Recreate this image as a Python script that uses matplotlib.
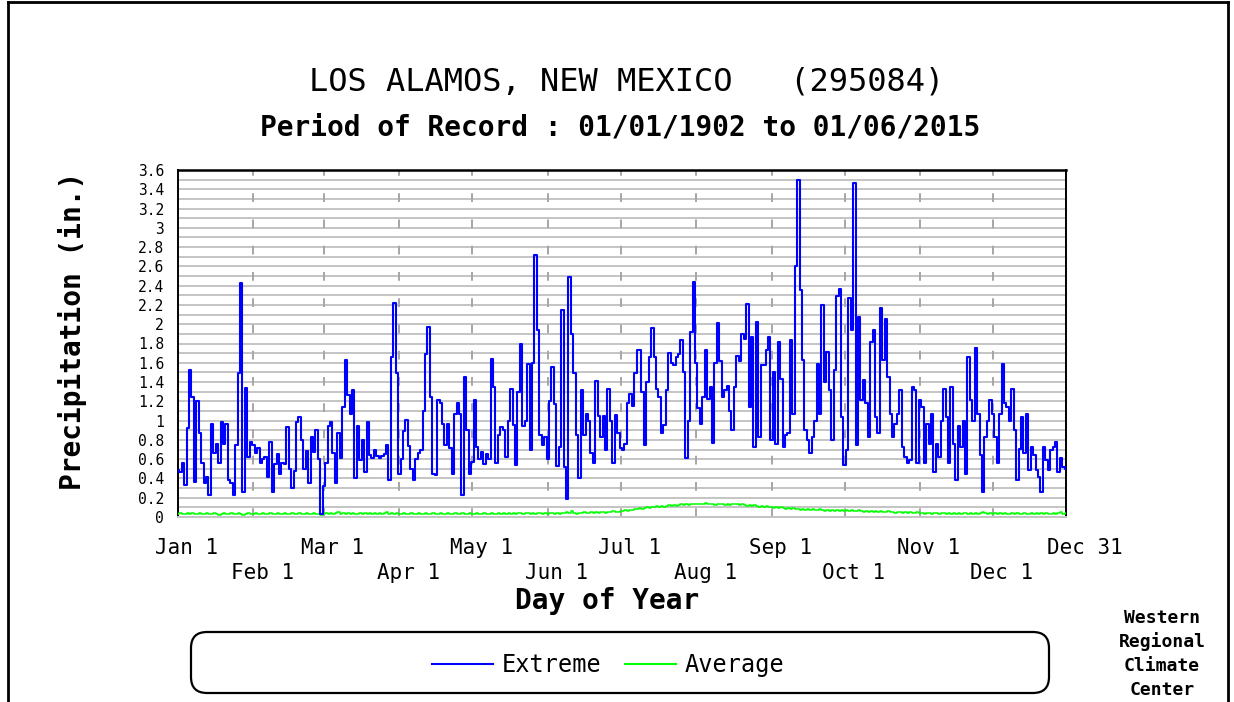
import numpy as np
import matplotlib
matplotlib.use("Agg")
import matplotlib.pyplot as plt
from matplotlib.lines import Line2D
from matplotlib.patches import FancyBboxPatch
import matplotlib.transforms as mtransforms

# ---------------- data ----------------
month_names = ["Jan", "Feb", "Mar", "Apr", "May", "Jun",
               "Jul", "Aug", "Sep", "Oct", "Nov", "Dec"]
month_lengths = [31, 29, 31, 30, 31, 30, 31, 31, 30, 31, 30, 31]

# Extreme daily precipitation (in.)
ext_jan = [0.49, 0.47, 0.56, 0.33, 0.92, 1.52, 1.25, 0.36, 1.2, 0.87,
           0.56, 0.35, 0.42, 0.23, 0.96, 0.66, 0.76, 0.56, 0.99, 0.76,
           0.96, 0.38, 0.35, 0.23, 0.75, 1.49, 2.43, 0.26, 1.34, 0.62,
           0.78]
ext_feb = [0.75, 0.66, 0.72, 0.56, 0.6, 0.62, 0.42, 0.78, 0.26,
           0.55, 0.65, 0.45, 0.56, 0.55, 0.93, 0.5, 0.3, 0.48, 0.99,
           1.04, 0.8, 0.5, 0.68, 0.35, 0.83, 0.67, 0.9, 0.6, 0.03]
ext_mar = [0.32, 0.56, 0.94, 0.99, 0.66, 0.35, 0.87, 0.61, 1.14, 1.63,
           1.27, 1.07, 1.32, 0.40, 0.94, 0.59, 0.80, 0.47, 0.99, 0.64,
           0.61, 0.70, 0.63, 0.61, 0.63, 0.65, 0.75, 0.38, 1.66, 2.22,
           1.49]
ext_apr = [0.45, 0.6, 0.89, 1.01, 0.74, 0.5, 0.38, 0.6, 0.66,
           0.7, 1.1, 1.69, 1.97, 1.25, 0.45, 0.44, 1.21, 1.18, 0.97,
           0.75, 0.97, 0.72, 0.45, 1.07, 1.18, 1.07, 0.23, 1.45, 0.9,
           0.45]
ext_may = [0.57, 1.21, 0.73, 0.6, 0.67, 0.55, 0.65, 0.6, 1.64,
           1.35, 0.56, 0.85, 0.93, 0.9, 0.62, 1.0, 1.33, 0.95, 0.54,
           1.3, 1.80, 0.94, 1.0, 1.59, 0.7, 1.6, 2.72, 1.94, 0.85,
           0.75, 0.83]
ext_jun = [0.6, 1.2, 1.56, 1.17, 0.53, 0.73, 2.15, 0.52,
           0.19, 2.49, 1.9, 1.49, 0.85, 0.40, 1.32, 0.85, 1.07, 1.0,
           0.66, 0.56, 1.41, 1.05, 0.83, 1.05, 0.7, 1.33, 1.0, 0.56,
           1.06, 0.87]
ext_jul = [0.72, 0.7, 0.76, 1.18, 1.28, 1.15, 1.49, 1.73,
           1.73, 1.3, 0.75, 1.4, 1.66, 1.96, 1.66, 1.33, 1.25, 0.87,
           0.95, 1.32, 1.70, 1.6, 1.58, 1.66, 1.69, 1.84, 1.5, 0.61,
           1.0, 1.92, 2.44]
ext_aug = [1.6, 1.13, 0.96, 1.25, 1.73, 1.22, 1.35,
           0.77, 1.6, 2.01, 1.62, 1.24, 1.32, 1.36, 1.1, 0.9, 1.35,
           1.67, 1.62, 1.90, 1.85, 2.21, 1.14, 1.87, 0.73, 2.02, 0.83,
           1.58, 1.58, 1.73, 1.87]
ext_sep = [0.8, 1.5, 0.76, 1.82, 1.43, 0.73,
           0.85, 0.87, 1.84, 1.07, 2.60, 3.50, 2.35, 1.63, 0.9, 0.8,
           0.66, 0.83, 1.0, 1.59, 1.07, 2.2, 1.4, 1.71, 1.32, 0.8,
           1.52, 2.29, 2.37, 1.04]
ext_oct = [0.54, 0.69, 2.27, 1.94, 3.46, 0.75,
           2.08, 1.21, 1.42, 1.18, 0.83, 1.82, 1.94, 1.04, 0.87, 2.17,
           1.63, 2.05, 1.45, 1.07, 0.83, 0.97, 1.07, 1.32, 0.73, 0.62,
           0.56, 0.59, 1.35, 1.32, 0.56]
ext_nov = [1.21, 1.14, 0.56, 0.97, 0.76,
           1.07, 0.47, 0.76, 0.62, 1.0, 1.33, 1.04, 0.56, 1.35, 0.76,
           0.38, 0.94, 0.73, 1.0, 0.45, 1.66, 1.21, 1.0, 1.75, 1.07,
           0.64, 0.26, 0.83, 1.0, 1.21]
ext_dec = [1.07, 0.83, 0.56, 1.07, 1.59,
           1.18, 1.14, 1.0, 1.33, 0.9, 0.38, 0.71, 1.04, 0.66, 1.07,
           0.49, 0.73, 0.64, 0.49, 0.42, 0.26, 0.73, 0.59, 0.49, 0.69,
           0.73, 0.78, 0.47, 0.61, 0.52, 0.5]

# Average daily precipitation (in.)
avg_jan = [0.03, 0.04, 0.03, 0.03, 0.04, 0.03, 0.04, 0.03, 0.03, 0.04,
           0.03, 0.03, 0.04, 0.03, 0.03, 0.04, 0.03, 0.02, 0.03, 0.04,
           0.03, 0.03, 0.04, 0.03, 0.03, 0.04, 0.03, 0.02, 0.03, 0.04,
           0.03]
avg_feb = [0.03, 0.04, 0.03, 0.03, 0.04, 0.03, 0.03, 0.04, 0.03, 0.03,
           0.04, 0.03, 0.03, 0.04, 0.03, 0.03, 0.04, 0.03, 0.03, 0.04,
           0.03, 0.03, 0.04, 0.03, 0.03, 0.04, 0.03, 0.03, 0.02]
avg_mar = [0.03, 0.04, 0.03, 0.04, 0.03, 0.04, 0.05, 0.03, 0.04, 0.03,
           0.04, 0.03, 0.04, 0.03, 0.03, 0.04, 0.03, 0.04, 0.03, 0.04,
           0.03, 0.04, 0.03, 0.04, 0.03, 0.04, 0.05, 0.03, 0.04, 0.03,
           0.04]
avg_apr = [0.03, 0.03, 0.04, 0.03, 0.03, 0.04, 0.03, 0.03, 0.04, 0.03,
           0.03, 0.04, 0.03, 0.03, 0.04, 0.03, 0.03, 0.04, 0.03, 0.03,
           0.04, 0.03, 0.03, 0.04, 0.03, 0.03, 0.04, 0.03, 0.03, 0.04]
avg_may = [0.03, 0.03, 0.04, 0.03, 0.03, 0.04, 0.03, 0.03, 0.04, 0.03,
           0.03, 0.04, 0.03, 0.04, 0.03, 0.04, 0.03, 0.04, 0.03, 0.04,
           0.04, 0.03, 0.04, 0.04, 0.03, 0.04, 0.03, 0.04, 0.04, 0.03,
           0.04]
avg_jun = [0.03, 0.04, 0.04, 0.03, 0.04, 0.03, 0.04, 0.04, 0.05, 0.04,
           0.06, 0.04, 0.03, 0.04, 0.04, 0.05, 0.04, 0.04, 0.05, 0.04,
           0.05, 0.04, 0.05, 0.05, 0.04, 0.05, 0.05, 0.06, 0.05, 0.05]
avg_jul = [0.06, 0.06, 0.07, 0.06, 0.07, 0.07, 0.08, 0.08, 0.09, 0.08,
           0.09, 0.10, 0.09, 0.10, 0.10, 0.11, 0.10, 0.11, 0.10, 0.11,
           0.12, 0.11, 0.12, 0.11, 0.12, 0.13, 0.12, 0.13, 0.12, 0.13,
           0.14]
avg_aug = [0.13, 0.14, 0.13, 0.14, 0.15, 0.13, 0.14, 0.13, 0.12, 0.13,
           0.14, 0.13, 0.12, 0.13, 0.12, 0.13, 0.14, 0.13, 0.12, 0.13,
           0.12, 0.11, 0.12, 0.11, 0.12, 0.11, 0.10, 0.11, 0.10, 0.11,
           0.10]
avg_sep = [0.10, 0.09, 0.10, 0.09, 0.10, 0.09, 0.08, 0.09, 0.08, 0.09,
           0.08, 0.08, 0.07, 0.08, 0.07, 0.08, 0.07, 0.08, 0.07, 0.07,
           0.08, 0.07, 0.06, 0.07, 0.06, 0.07, 0.06, 0.07, 0.06, 0.07]
avg_oct = [0.06, 0.07, 0.06, 0.07, 0.06, 0.06, 0.07, 0.06, 0.05, 0.06,
           0.05, 0.06, 0.05, 0.06, 0.05, 0.06, 0.05, 0.05, 0.06, 0.05,
           0.05, 0.04, 0.05, 0.05, 0.04, 0.05, 0.04, 0.05, 0.04, 0.04,
           0.05]
avg_nov = [0.04, 0.04, 0.03, 0.04, 0.04, 0.03, 0.04, 0.04, 0.03, 0.04,
           0.04, 0.03, 0.04, 0.03, 0.04, 0.03, 0.04, 0.03, 0.04, 0.04,
           0.03, 0.04, 0.03, 0.04, 0.03, 0.04, 0.05, 0.04, 0.03, 0.04]
avg_dec = [0.03, 0.04, 0.03, 0.04, 0.03, 0.04, 0.03, 0.03, 0.04, 0.03,
           0.04, 0.03, 0.03, 0.04, 0.03, 0.03, 0.04, 0.03, 0.04, 0.03,
           0.04, 0.03, 0.04, 0.03, 0.03, 0.04, 0.03, 0.04, 0.05, 0.03,
           0.04]

y_ticks = [0, 0.2, 0.4, 0.6, 0.8, 1, 1.2, 1.4, 1.6, 1.8, 2, 2.2,
           2.4, 2.6, 2.8, 3, 3.2, 3.4, 3.6]

title1 = "LOS ALAMOS, NEW MEXICO   (295084)"
title2 = "Period of Record : 01/01/1902 to 01/06/2015"

extreme = np.concatenate([ext_jan, ext_feb, ext_mar, ext_apr, ext_may, ext_jun,
                          ext_jul, ext_aug, ext_sep, ext_oct, ext_nov, ext_dec])
average = np.concatenate([avg_jan, avg_feb, avg_mar, avg_apr, avg_may, avg_jun,
                          avg_jul, avg_aug, avg_sep, avg_oct, avg_nov, avg_dec])
days_e = np.arange(1, len(extreme) + 1)
days_a = np.arange(1, len(average) + 1)
month_start = np.concatenate([[1], np.cumsum(month_lengths)[:-1] + 1])
last_day = int(np.sum(month_lengths))

# ---------------- figure ----------------
W, H = 1234, 702
fig = plt.figure(figsize=(W / 100, H / 100), dpi=100)
fig.patch.set_facecolor("white")
MONO = "DejaVu Sans Mono"

ax = fig.add_axes([178 / W, 1 - 517 / H, 888 / W, 347 / H])
ax.set_xlim(1, last_day)
ax.set_ylim(0, 3.6)

# grid
ax.set_yticks(y_ticks)
ax.set_yticks(np.arange(0, 3.61, 0.1), minor=True)
ax.grid(axis="y", which="both", color="#c4c4c4", lw=1.4)
ax.set_axisbelow(True)
for d in month_start[1:]:
    ax.axvline(d, color="#a6a6a6", lw=1.4, dashes=(4.5, 9), zorder=1)

ax.plot(days_a, average, color="#00ff00", lw=1.1, drawstyle="steps-mid", zorder=3)
ax.plot(days_e, extreme, color="#0000ff", lw=1.5, drawstyle="steps-mid", zorder=4)

ax.set_yticklabels(["%g" % v for v in y_ticks], fontfamily=MONO, fontsize=10.5)
ax.tick_params(axis="y", which="both", length=0, pad=10)
ax.set_xticks([])

for side in ["left", "right"]:
    ax.spines[side].set_color("black")
    ax.spines[side].set_linestyle((0, (2, 1)))
    ax.spines[side].set_linewidth(1.4)
ax.spines["top"].set_color("black")
ax.spines["top"].set_linewidth(1.8)
ax.spines["bottom"].set_color("#c4c4c4")
ax.spines["bottom"].set_linewidth(1.4)

# x labels in two rows
xlabels = [("%s 1" % m, d) for m, d in zip(month_names, month_start)]
for i, (lab, d) in enumerate(xlabels):
    row_px = 31 if i % 2 == 0 else 56
    ax.annotate(lab, xy=(d, 0), xycoords=("data", "axes fraction"),
                xytext=(6.5, -row_px * 0.72), textcoords="offset points",
                ha="center", va="center", fontfamily=MONO, fontsize=15)
ax.annotate("Dec 31", xy=(last_day, 0), xycoords=("data", "axes fraction"),
            xytext=(13.5, -31 * 0.72), textcoords="offset points",
            ha="center", va="center", fontfamily=MONO, fontsize=15)

# titles and axis labels
fig.text(627 / W, 1 - 82 / H, title1, ha="center", va="center",
         fontfamily=MONO, fontsize=23)
fig.text(620 / W, 1 - 128 / H, title2, ha="center", va="center",
         fontfamily=MONO, fontsize=20, fontweight="bold")
fig.text(73 / W, 1 - 331 / H, "Precipitation (in.)", ha="center", va="center",
         rotation=90, fontfamily=MONO, fontsize=20, fontweight="bold")
fig.text(607 / W, 1 - 601 / H, "Day of Year", ha="center", va="center",
         fontfamily=MONO, fontsize=20, fontweight="bold")

# legend box (display pixel coordinates)
ident = mtransforms.IdentityTransform()
box = FancyBboxPatch((191, H - 693), 858, 61,
                     boxstyle="round,pad=0,rounding_size=16",
                     transform=ident, fill=False, ec="black", lw=1.6)
fig.add_artist(box)
fig.add_artist(Line2D([432, 493], [H - 664, H - 664], transform=ident,
                      color="#0000ff", lw=1.5))
fig.text(502 / W, 1 - 665 / H, "Extreme", ha="left", va="center",
         fontfamily=MONO, fontsize=17)
fig.add_artist(Line2D([625, 676], [H - 664, H - 664], transform=ident,
                      color="#00ff00", lw=1.5))
fig.text(685 / W, 1 - 665 / H, "Average", ha="left", va="center",
         fontfamily=MONO, fontsize=17)

# credit
for i, word in enumerate(["Western", "Regional", "Climate", "Center"]):
    fig.text(1162 / W, 1 - (618 + 24 * i) / H, word, ha="center", va="center",
             fontfamily=MONO, fontsize=13, fontweight="bold")

# outer frame
fig.add_artist(Line2D([8, 1228], [H - 2, H - 2], transform=ident, color="black", lw=2))
fig.add_artist(Line2D([8, 8], [0, H - 2], transform=ident, color="black", lw=2))
fig.add_artist(Line2D([1228, 1228], [0, H - 2], transform=ident, color="black", lw=2))

fig.savefig("out.png", dpi=100, facecolor="white")
